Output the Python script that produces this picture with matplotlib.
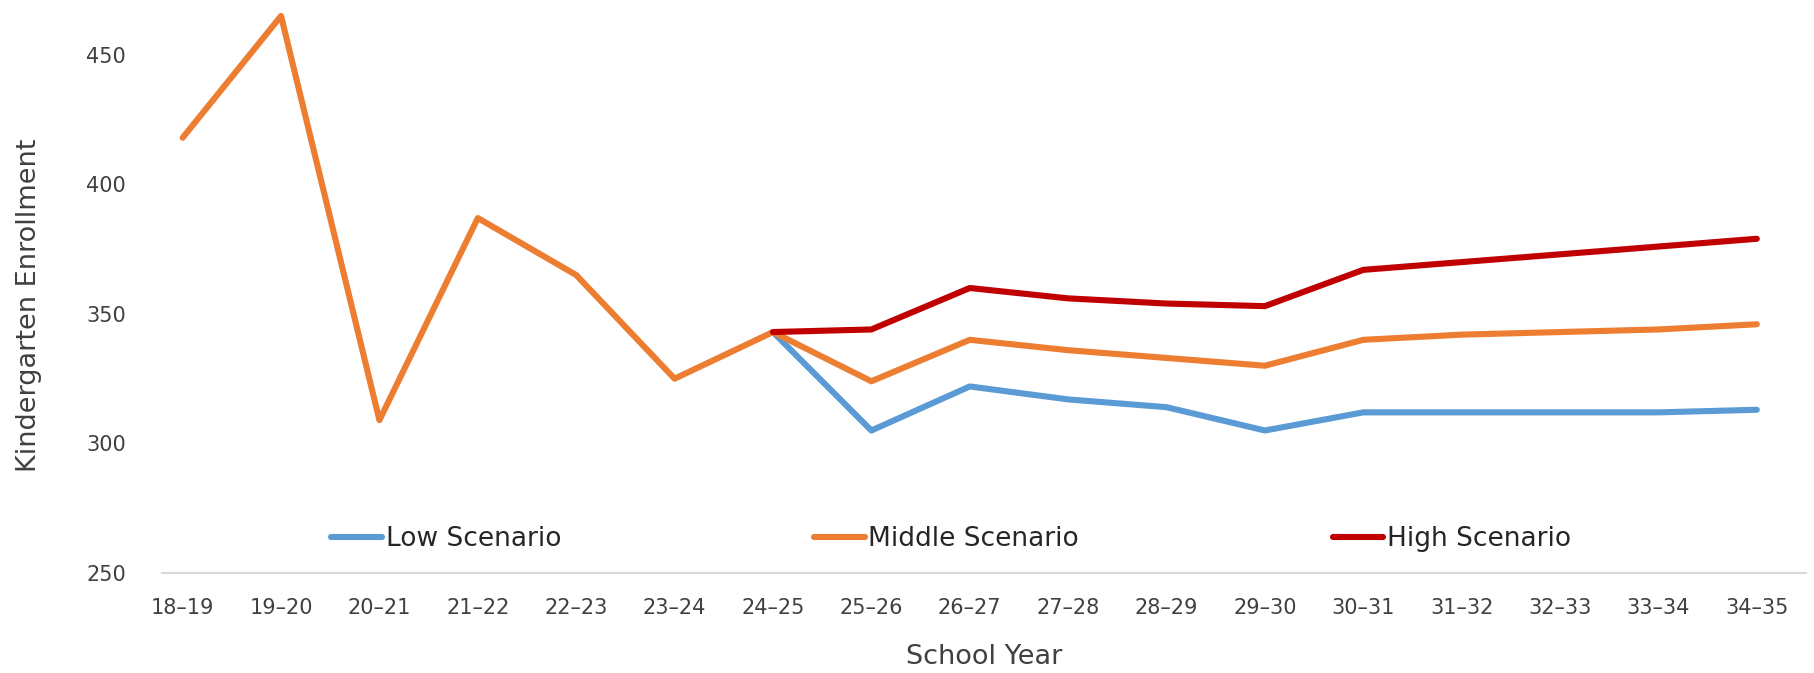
import matplotlib
matplotlib.use("Agg")
import matplotlib.pyplot as plt

# School years on the x axis
years = ["18–19", "19–20", "20–21", "21–22", "22–23", "23–24", "24–25", "25–26", "26–27",
         "27–28", "28–29", "29–30", "30–31", "31–32", "32–33", "33–34", "34–35"]

# Middle scenario covers the full history + projection
middle = [418, 465, 309, 387, 365, 325, 343, 324, 340, 336, 333, 330, 340, 342, 343, 344, 346]
# Low / high only start at 24-25
low = [None] * 6 + [343, 305, 322, 317, 314, 305, 312, 312, 312, 312, 313]
high = [None] * 6 + [343, 344, 360, 356, 354, 353, 367, 370, 373, 376, 379]

plt.rcParams['font.family'] = ['DejaVu Sans']

fig = plt.figure(figsize=(18.15, 6.73), dpi=100)
ax = fig.add_axes([162 / 1815, 1 - 573 / 673, 1644 / 1815, 570 / 673])

x = list(range(len(years)))
xs_low = [i for i, v in zip(x, low) if v is not None]
xs_high = [i for i, v in zip(x, high) if v is not None]

ax.plot(xs_low, [v for v in low if v is not None], color='#5B9BD5', lw=4.4,
        solid_capstyle='round', label='Low Scenario')
ax.plot(x, middle, color='#ED7D31', lw=4.4, solid_capstyle='round', label='Middle Scenario')
ax.plot(xs_high, [v for v in high if v is not None], color='#C00000', lw=4.4,
        solid_capstyle='round', label='High Scenario')

ax.set_ylim(250, 470)
ax.set_yticks([250, 300, 350, 400, 450])
ax.set_xlim(-0.21, 16.5)
ax.set_xticks(x)
ax.set_xticklabels(years)

for s in ['top', 'right', 'left']:
    ax.spines[s].set_visible(False)
ax.spines['bottom'].set_color('#D9D9D9')
ax.spines['bottom'].set_linewidth(1.5)
ax.tick_params(length=0, labelsize=15, colors='#404040')
ax.tick_params(axis='x', pad=18)
ax.tick_params(axis='y', pad=26)

ax.set_xlabel('School Year', fontsize=19.5, color='#404040', labelpad=19)
ax.set_ylabel('Kindergarten Enrollment', fontsize=19.5, color='#404040', labelpad=31.5)
ax.yaxis.label.set_y(0.47)  # sits a little below centre in the original

leg = ax.legend(ncol=3, loc='center', bbox_to_anchor=(0.48, 0.06), frameon=False,
                fontsize=19, handlelength=1.9, handletextpad=0.15, columnspacing=9.6)
for t in leg.get_texts():
    t.set_color('#262626')

fig.savefig('out.png', dpi=100)
